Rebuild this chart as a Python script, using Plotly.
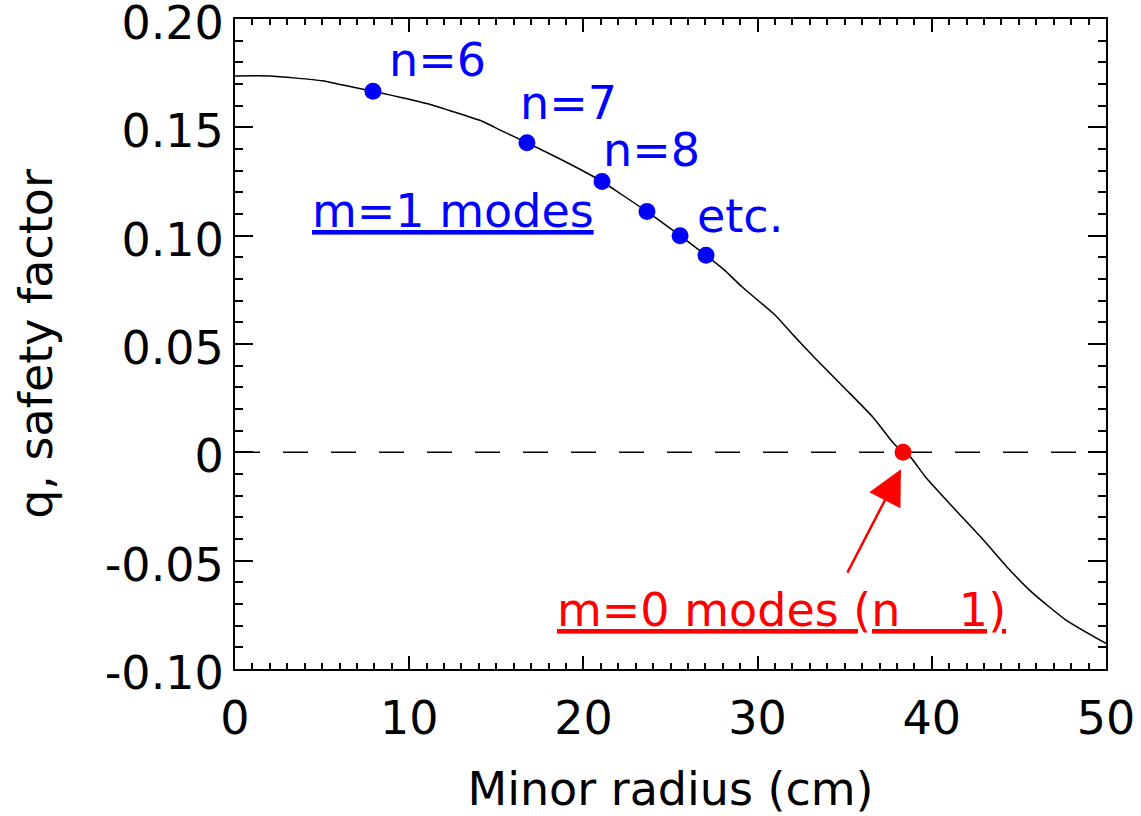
import plotly.graph_objects as go

# q profile (minor radius in cm, safety factor)
r_curve = [0, 2, 5, 6.2, 7.92, 11, 14.25, 15.2, 16.76, 19, 21.07, 22.1, 23.65, 25.55,
           27.04, 28.1, 29.1, 31.0, 32.05, 33.4, 35.1, 36.6, 37.8, 38.35, 38.75, 39.7,
           41.0, 42.8, 44.3, 45.8, 47.7, 50]
q_curve = [0.1737, 0.1737, 0.1715, 0.1695, 0.1667, 0.161, 0.1526, 0.1488, 0.1429, 0.134,
           0.125, 0.1195, 0.1111, 0.100, 0.0909, 0.0841, 0.0764, 0.0634, 0.0541, 0.0426,
           0.0288, 0.0164, 0.0042, 0.0, -0.002, -0.012, -0.0235, -0.039, -0.0528, -0.065,
           -0.0774, -0.0882]

# m=1 resonant surfaces (q = 1/n)
r_m1 = [7.92, 16.76, 21.07, 23.65, 25.55, 27.04]
q_m1 = [1/6, 1/7, 1/8, 1/9, 1/10, 1/11]

# m=0 resonant surface (q = 0)
r_m0 = [38.35]
q_m0 = [0.0]

x_range = [0, 50]
y_range = [-0.10, 0.20]
y_tickvals = [0.20, 0.15, 0.10, 0.05, 0, -0.05, -0.10]
y_ticktext = ["0.20", "0.15", "0.10", "0.05", "0", "-0.05", "-0.10"]
x_tickvals = [0, 10, 20, 30, 40, 50]
x_ticktext = ["0", "10", "20", "30", "40", "50"]

FONT = "DejaVu Sans"
FS = 46
BLUE = "#0000FF"
RED = "#FF0000"

fig = go.Figure()

# dashed zero line
fig.add_trace(go.Scatter(x=x_range, y=[0, 0], mode="lines",
                         line=dict(color="black", width=1.5, dash="25px,23px"),
                         hoverinfo="skip", showlegend=False))
# q profile
fig.add_trace(go.Scatter(x=r_curve, y=q_curve, mode="lines",
                         line=dict(color="black", width=1.5, shape="spline", smoothing=0.5),
                         showlegend=False))
# dots
fig.add_trace(go.Scatter(x=r_m1, y=q_m1, mode="markers",
                         marker=dict(color=BLUE, size=17), showlegend=False))
fig.add_trace(go.Scatter(x=r_m0, y=q_m0, mode="markers",
                         marker=dict(color=RED, size=17), showlegend=False))

def label(x, y, text, color):
    fig.add_annotation(x=x, y=y, xref="x", yref="y", text=text, showarrow=False,
                       xanchor="left", yanchor="middle",
                       font=dict(family=FONT, size=FS, color=color))

label(8.7, 0.181, "n=6", BLUE)
label(16.25, 0.1612, "n=7", BLUE)
label(21.0, 0.1395, "n=8", BLUE)
label(26.4, 0.109, "etc.", BLUE)
label(4.3, 0.1113, "<u>m=1 modes</u>", BLUE)
label(18.37, -0.0727, "<u>m=0 modes (n\u00a0\u00a0\u00a0\u00a01)</u>", RED)

# arrow to the m=0 surface
fig.add_annotation(x=38.23, y=-0.0078, ax=35.11, ay=-0.0562, xref="x", yref="y",
                   axref="x", ayref="y", text="", showarrow=True,
                   arrowhead=2, arrowsize=2.8, arrowwidth=2.5, arrowcolor=RED)

axis_common = dict(showline=True, linecolor="black", linewidth=2, mirror="ticks",
                   ticks="inside", tickcolor="black", tickwidth=2,
                   showgrid=False, zeroline=False, ticklabeloverflow="allow",
                   tickfont=dict(family=FONT, size=FS, color="black"))

fig.update_xaxes(range=x_range, tickmode="array", tickvals=x_tickvals, ticktext=x_ticktext,
                 ticklen=13, ticklabelstandoff=8,
                 minor=dict(dtick=1, tick0=0, ticks="inside", ticklen=6, tickwidth=2,
                            tickcolor="black", showgrid=False),
                 title=dict(text="Minor radius (cm)", font=dict(family=FONT, size=FS, color="black"),
                            standoff=30),
                 **axis_common)
fig.update_yaxes(range=y_range, tickmode="array", tickvals=y_tickvals, ticktext=y_ticktext,
                 ticklen=18, ticklabelshift=4,
                 minor=dict(dtick=0.01, tick0=0, ticks="inside", ticklen=8, tickwidth=2,
                            tickcolor="black", showgrid=False),
                 title=dict(text="q, safety factor", font=dict(family=FONT, size=FS, color="black"),
                            standoff=38),
                 **axis_common)

fig.update_layout(width=1141, height=816, plot_bgcolor="white", paper_bgcolor="white",
                  margin=dict(l=235, r=35, t=19, b=147, autoexpand=False),
                  showlegend=False, font=dict(family=FONT))

fig.write_html("out.html")
